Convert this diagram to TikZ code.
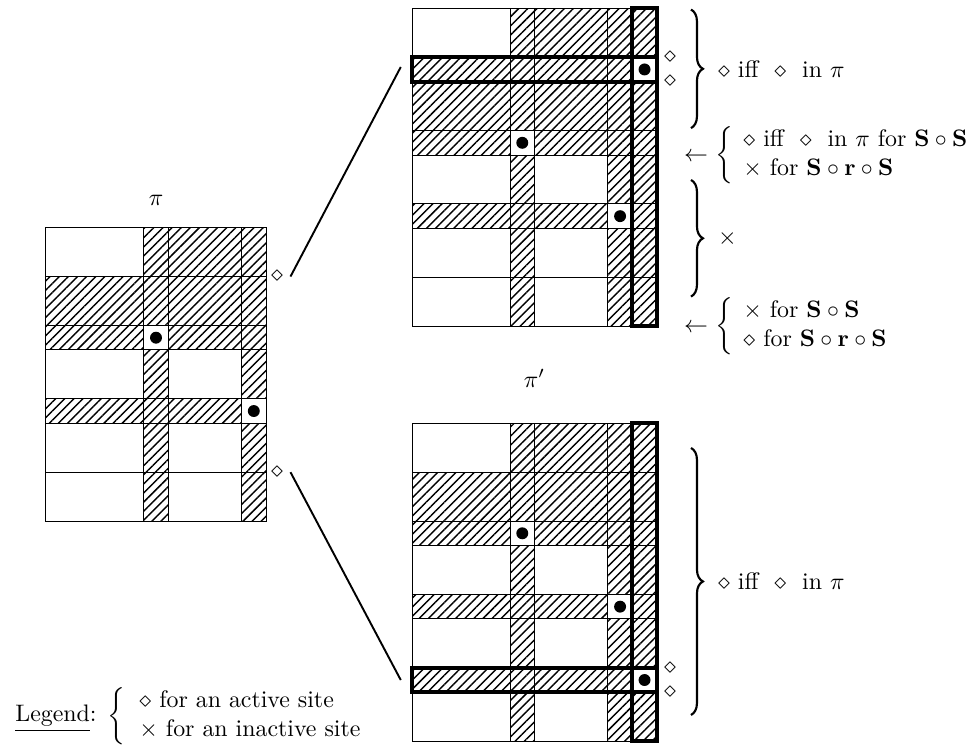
\documentclass[tikz,border=0pt]{standalone}
\usepackage{amsmath}
\usetikzlibrary{positioning,patterns.meta,decorations.pathreplacing}

\begin{document}
\begin{tikzpicture}[x=0.36cm, y=-0.36cm,
                    hatched/.style={pattern={Lines[angle=45, distance=2.7pt, line width=0.6pt]}},
                    dotmark/.style={circle, fill=black, inner sep=0pt, minimum size=5pt},
                    thickbox/.style={line width=1.8pt},
                    site/.style={inner sep=0pt},
                    link/.style={line width=0.8pt},
                    bracemark/.style={decorate, decoration={brace, amplitude=5pt}, line width=0.9pt},
                    note/.style={anchor=west, inner sep=0pt, align=left}
                ]
                    \useasboundingbox (0,0) rectangle (39.63,30.51);

                    % pi
                    \begin{scope}[shift={(1.88,9.31)}]
                        \fill[hatched] (4,0) rectangle (5,12) (8,0) rectangle (9,12) (5,0) rectangle (8,2)
                            (0,2) rectangle (9,5) (0,7) rectangle (9,8);
                        \fill[white] (4,4) rectangle (5,5) (8,7) rectangle (9,8);
                        \draw (0,0) rectangle (9,12);
                        \foreach \x in {4,5,8} \draw (\x,0) -- (\x,12);
                        \foreach \y in {2,4,5,7,8,10} \draw (0,\y) -- (9,\y);
                        \node[dotmark] (pa) at (4.5,4.5) {};
                        \node[dotmark] (pb) at (8.5,7.5) {};
                        \node (pi) at (4.5,-1.1) {$\pi$};
                        \node[site] (sa) at (9.45,2) {$\diamond$};
                        \node[site] (sb) at (9.45,10) {$\diamond$};
                        \coordinate (la) at (10,2);
                        \coordinate (lb) at (10,10);
                    \end{scope}

                    % pi' for S o S
                    \begin{scope}[shift={(16.86,0.34)}]
                        \fill[hatched] (4,0) rectangle (5,13) (8,0) rectangle (10,13) (5,0) rectangle (8,2)
                            (0,2) rectangle (10,6) (0,8) rectangle (10,9);
                        \fill[white] (9,2) rectangle (10,3) (4,5) rectangle (5,6) (8,8) rectangle (9,9);
                        \draw (0,0) rectangle (10,13);
                        \foreach \x in {4,5,8,9} \draw (\x,0) -- (\x,13);
                        \foreach \y in {2,3,5,6,8,9,11} \draw (0,\y) -- (10,\y);
                        \draw[thickbox] (0,2) rectangle (10,3);
                        \draw[thickbox] (9,0) rectangle (10,13);
                        \node[dotmark] (qa) at (9.5,2.5) {};
                        \node[dotmark] (qb) at (4.5,5.5) {};
                        \node[dotmark] (qc) at (8.5,8.5) {};
                        \node[site] (ta) at (10.54,2) {$\diamond$};
                        \node[site] (tb) at (10.54,3) {$\diamond$};
                        \coordinate (ra) at (-0.47,2.4);
                        % sites on the right
                        \draw[bracemark] (11.4,0.05) -- (11.4,4.9);
                        \coordinate (ba) at (11.9,2.47);
                        \node[note] (na) [right=6pt of ba] {$\diamond$ iff~ $\diamond$~ in $\pi$};
                        \node[note] (nb) at (11.1,6) {$\leftarrow$ $\left\{\begin{tabular}{@{\hspace{4pt}}l@{}}
                            $\diamond$ iff~ $\diamond$~ in $\pi$ for $\mathbf{S}\circ\mathbf{S}$\\
                            $\times$ for $\mathbf{S}\circ\mathbf{r}\circ\mathbf{S}$
                            \end{tabular}\right.$};
                        \draw[bracemark] (11.4,7.02) -- (11.4,11.79);
                        \coordinate (bc) at (11.9,9.42);
                        \node[note] (nc) [right=6pt of bc] {$\times$};
                        \node[note] (nd) at (11.1,13) {$\leftarrow$ $\left\{\begin{tabular}{@{\hspace{4pt}}l@{}}
                            $\times$ for $\mathbf{S}\circ\mathbf{S}$\\
                            $\diamond$ for $\mathbf{S}\circ\mathbf{r}\circ\mathbf{S}$
                            \end{tabular}\right.$};
                    \end{scope}

                    % pi' for S o r o S
                    \begin{scope}[shift={(16.86,17.31)}]
                        \fill[hatched] (4,0) rectangle (5,13) (8,0) rectangle (10,13) (5,0) rectangle (8,2)
                            (0,2) rectangle (10,5) (0,7) rectangle (10,8) (0,10) rectangle (10,11);
                        \fill[white] (4,4) rectangle (5,5) (8,7) rectangle (9,8) (9,10) rectangle (10,11);
                        \draw (0,0) rectangle (10,13);
                        \foreach \x in {4,5,8,9} \draw (\x,0) -- (\x,13);
                        \foreach \y in {2,4,5,7,8,10,11} \draw (0,\y) -- (10,\y);
                        \draw[thickbox] (0,10) rectangle (10,11);
                        \draw[thickbox] (9,0) rectangle (10,13);
                        \node[dotmark] (ua) at (4.5,4.5) {};
                        \node[dotmark] (ub) at (8.5,7.5) {};
                        \node[dotmark] (uc) at (9.5,10.5) {};
                        \node (piprime) at (5,-1.85) {$\pi'$};
                        \node[site] (va) at (10.54,10) {$\diamond$};
                        \node[site] (vb) at (10.54,11) {$\diamond$};
                        \coordinate (rb) at (-0.47,10.5);
                        \draw[bracemark] (11.4,1.01) -- (11.4,11.93);
                        \coordinate (be) at (11.9,6.47);
                        \node[note] (ne) [right=6pt of be] {$\diamond$ iff~ $\diamond$~ in $\pi$};
                    \end{scope}

                    % insertion
                    \draw[link] (la) -- (ra);
                    \draw[link] (lb) -- (rb);

                    % legend
                    \node[note] (legend) at (0.61,29.28) {\underline{Legend}: $\left\{\begin{tabular}{l@{}}
                        $\diamond$ for an active site\\
                        $\times$ for an inactive site
                        \end{tabular}\right.$};
                \end{tikzpicture}
\end{document}
